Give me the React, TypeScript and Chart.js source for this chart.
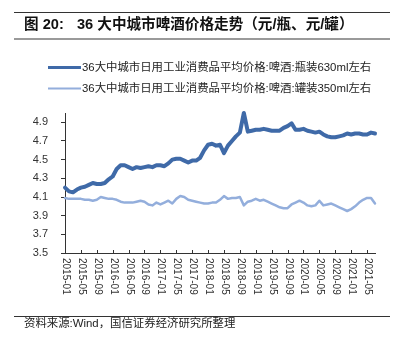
import React, { useEffect, useRef } from 'react';
import { Chart, registerables } from 'chart.js';

Chart.register(...registerables);

const months = [
  '2015-01','2015-02','2015-03','2015-04','2015-05','2015-06','2015-07','2015-08','2015-09','2015-10','2015-11','2015-12',
  '2016-01','2016-02','2016-03','2016-04','2016-05','2016-06','2016-07','2016-08','2016-09','2016-10','2016-11','2016-12',
  '2017-01','2017-02','2017-03','2017-04','2017-05','2017-06','2017-07','2017-08','2017-09','2017-10','2017-11','2017-12',
  '2018-01','2018-02','2018-03','2018-04','2018-05','2018-06','2018-07','2018-08','2018-09','2018-10','2018-11','2018-12',
  '2019-01','2019-02','2019-03','2019-04','2019-05','2019-06','2019-07','2019-08','2019-09','2019-10','2019-11','2019-12',
  '2020-01','2020-02','2020-03','2020-04','2020-05','2020-06','2020-07','2020-08','2020-09','2020-10','2020-11','2020-12',
  '2021-01','2021-02','2021-03','2021-04','2021-05','2021-06','2021-07',
];

const bottle630 = [
  4.20, 4.16, 4.15, 4.18, 4.20, 4.21, 4.23, 4.25, 4.24, 4.24, 4.25, 4.29,
  4.32, 4.40, 4.44, 4.44, 4.42, 4.40, 4.42, 4.41, 4.42, 4.43, 4.42, 4.44,
  4.44, 4.43, 4.46, 4.50, 4.51, 4.51, 4.49, 4.47, 4.49, 4.49, 4.52, 4.60,
  4.66, 4.67, 4.65, 4.66, 4.57, 4.65, 4.70, 4.75, 4.79, 5.00, 4.80, 4.81,
  4.82, 4.82, 4.83, 4.82, 4.81, 4.81, 4.81, 4.84, 4.86, 4.89, 4.82, 4.82,
  4.83, 4.81, 4.80, 4.79, 4.80, 4.77, 4.75, 4.74, 4.74, 4.75, 4.76, 4.78,
  4.77, 4.78, 4.78, 4.77, 4.77, 4.79, 4.78,
];

const can350 = [
  4.09, 4.08, 4.08, 4.08, 4.08, 4.07, 4.07, 4.06, 4.07, 4.10, 4.09, 4.08,
  4.08, 4.07, 4.05, 4.04, 4.04, 4.04, 4.05, 4.06, 4.05, 4.02, 4.01, 4.04,
  4.02, 4.04, 4.06, 4.03, 4.08, 4.11, 4.10, 4.07, 4.06, 4.05, 4.04, 4.03,
  4.03, 4.04, 4.04, 4.07, 4.11, 4.08, 4.09, 4.09, 4.10, 4.01, 4.05, 4.06,
  4.08, 4.06, 4.07, 4.05, 4.03, 4.01, 3.99, 3.98, 3.98, 4.02, 4.04, 4.06,
  4.04, 4.01, 4.00, 4.01, 4.06, 4.01, 4.02, 4.03, 4.01, 3.99, 3.97, 3.95,
  3.97, 4.00, 4.04, 4.07, 4.09, 4.09, 4.03,
];

const xTickLabels = [
  '2015-01','2015-05','2015-09','2016-01','2016-05','2016-09','2017-01','2017-05','2017-09',
  '2018-01','2018-05','2018-09','2019-01','2019-05','2019-09','2020-01','2020-05','2020-09',
  '2021-01','2021-05',
];

const yTickValues = [3.5, 3.7, 3.9, 4.1, 4.3, 4.5, 4.7, 4.9];

const seriesNames = [
  '36大中城市日用工业消费品平均价格:啤酒:瓶装630ml左右',
  '36大中城市日用工业消费品平均价格:啤酒:罐装350ml左右',
];

const titleLabel = '图 20:';
const titleText = '36 大中城市啤酒价格走势（元/瓶、元/罐）';
const sourceText = '资料来源:Wind，国信证券经济研究所整理';

const DARK = '#3F6AA8';
const LIGHT = '#93AEDC';
const FONT = '"Liberation Sans", "Noto Sans CJK SC", sans-serif';

const decor = {
  id: 'decor',
  beforeDraw(chart: any) {
    const ctx = chart.ctx;
    ctx.save();
    ctx.fillStyle = '#ffffff';
    ctx.fillRect(0, 0, chart.width, chart.height);
    ctx.restore();
  },
  afterDraw(chart: any) {
    const ctx = chart.ctx;
    ctx.save();
    // rules
    ctx.fillStyle = '#333333';
    ctx.fillRect(14, 12, 376, 1);
    ctx.fillStyle = '#9a9a9a';
    ctx.fillRect(14, 38, 376, 2);
    ctx.fillStyle = '#333333';
    ctx.fillRect(14, 316, 376, 1);

    // title
    ctx.fillStyle = '#111111';
    ctx.font = 'bold 14.6px ' + FONT;
    ctx.textBaseline = 'middle';
    ctx.textAlign = 'left';
    ctx.fillText(titleLabel, 24, 25);
    ctx.fillText(titleText, 77, 25);

    // legend
    chart.data.datasets.forEach((ds: any, k: number) => {
      const y = 67.5 + k * 21;
      ctx.strokeStyle = ds.borderColor;
      ctx.lineWidth = k === 0 ? 3 : 2;
      ctx.lineCap = 'butt';
      ctx.beginPath();
      ctx.moveTo(48, y);
      ctx.lineTo(81, y);
      ctx.stroke();
      ctx.fillStyle = '#222222';
      ctx.font = '11.4px ' + FONT;
      ctx.textBaseline = 'middle';
      ctx.fillText(seriesNames[k], 82, y);
    });

    // x ticks and rotated labels
    const xs = chart.scales.x;
    const bottom = chart.chartArea.bottom;
    ctx.strokeStyle = '#333333';
    ctx.lineWidth = 1;
    ctx.fillStyle = '#333333';
    ctx.font = '10px ' + FONT;
    xTickLabels.forEach((lab) => {
      const idx = months.indexOf(lab);
      const x = Math.round(xs.getPixelForValue(idx)) + 0.5;
      ctx.beginPath();
      ctx.moveTo(x, bottom);
      ctx.lineTo(x, bottom - 3);
      ctx.stroke();
      ctx.save();
      ctx.translate(x, bottom + 5);
      ctx.rotate(Math.PI / 2);
      ctx.textAlign = 'left';
      ctx.textBaseline = 'middle';
      ctx.fillText(lab, 0, 0);
      ctx.restore();
    });

    // source
    ctx.fillStyle = '#222222';
    ctx.font = '11.4px ' + FONT;
    ctx.textAlign = 'left';
    ctx.textBaseline = 'middle';
    ctx.fillText(sourceText, 24, 324);
    ctx.restore();
  },
};

export default function App() {
  const ref = useRef<HTMLCanvasElement | null>(null);

  useEffect(() => {
    if (!ref.current) return;
    const chart = new Chart(ref.current, {
      type: 'line',
      data: {
        labels: months,
        datasets: [
          {
            label: seriesNames[0],
            data: bottle630,
            borderColor: DARK,
            backgroundColor: DARK,
            borderWidth: 4,
            pointRadius: 0,
            tension: 0,
            borderJoinStyle: 'round',
            borderCapStyle: 'round',
            clip: false,
          },
          {
            label: seriesNames[1],
            data: can350,
            borderColor: LIGHT,
            backgroundColor: LIGHT,
            borderWidth: 2.5,
            pointRadius: 0,
            tension: 0,
            borderJoinStyle: 'round',
            borderCapStyle: 'round',
            clip: false,
          },
        ],
      },
      options: {
        responsive: false,
        animation: false,
        devicePixelRatio: 1,
        layout: { padding: { left: 25, right: 27, top: 113, bottom: 37 } },
        plugins: {
          legend: { display: false },
          title: { display: false },
          tooltip: { enabled: false },
        },
        scales: {
          x: {
            type: 'category',
            offset: false,
            grid: { display: false },
            border: { display: true, color: '#333333', width: 1 },
            ticks: { display: false },
            afterFit: (s: any) => { s.height = 50; },
          },
          y: {
            min: 3.5,
            max: 5.0,
            afterBuildTicks: (s: any) => { s.ticks = yTickValues.map((v) => ({ value: v })); },
            grid: { display: true, drawOnChartArea: false, drawTicks: true, tickLength: 4, color: '#333333' },
            border: { display: true, color: '#333333', width: 1 },
            ticks: {
              padding: 13,
              color: '#333333',
              font: { family: FONT, size: 11 },
              callback: (v: any) => Number(v).toFixed(1),
            },
            afterFit: (s: any) => { s.width = 40; },
          },
        },
      },
      plugins: [decor],
    });
    return () => chart.destroy();
  }, []);

  return (
    <div style={{ position: 'fixed', left: 0, top: 0, width: 402, height: 340, background: '#fff' }}>
      <canvas ref={ref} width={402} height={340} style={{ width: 402, height: 340, display: 'block' }} />
    </div>
  );
}
